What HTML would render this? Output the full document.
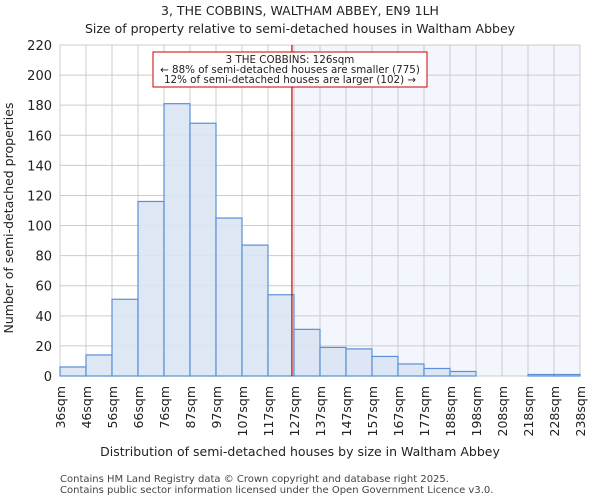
<!DOCTYPE html>
<html><head><meta charset="utf-8"><style>
body{margin:0;background:#fff;font-family:"DejaVu Sans","Liberation Sans",sans-serif}
svg text{font-family:"DejaVu Sans","Liberation Sans",sans-serif;fill:#222}
</style></head><body>
<svg id="c" width="600" height="500"></svg>
<script>
const categories=["36sqm","46sqm","56sqm","66sqm","76sqm","87sqm","97sqm","107sqm","117sqm","127sqm","137sqm","147sqm","157sqm","167sqm","177sqm","188sqm","198sqm","208sqm","218sqm","228sqm","238sqm"];
const counts=[6,14,51,116,181,168,105,87,54,31,19,18,13,8,5,3,0,0,1,1];
const yTicks=[0,20,40,60,80,100,120,140,160,180,200,220];
const markerBin=8.92;
const X0=60,X1=580,Y0=376,Y1=45,YMAX=220;
const bw=(X1-X0)/counts.length;
const xs=i=>X0+i*bw;
const ys=v=>Y0-(v/YMAX)*(Y0-Y1);
const svg=document.getElementById('c');const NS='http://www.w3.org/2000/svg';
function el(t,a,p){const e=document.createElementNS(NS,t);for(const k in a)e.setAttribute(k,a[k]);(p||svg).appendChild(e);return e;}
function txt(s,a,name){const e=el('text',a);e.textContent=s;return e;}
const mx=xs(markerBin);
const sh=el('rect',{x:mx,y:Y1,width:X1-mx,height:Y0-Y1,fill:'#f3f6fd'});


yTicks.forEach(t=>{const l=el('line',{x1:X0,x2:X1,y1:ys(t),y2:ys(t),stroke:'#ccc','stroke-width':1});


txt(String(t),{x:X0-8,y:ys(t)+5,'text-anchor':'end','font-size':13},'y-tick-label');});
categories.forEach((c,i)=>{const l=el('line',{x1:xs(i),x2:xs(i),y1:Y1,y2:Y0,stroke:'#ccc','stroke-width':1});


const x=xs(i)+5,y=Y0+10;
txt(c,{x:x,y:y,'text-anchor':'end','font-size':12.5,transform:`rotate(-90 ${x} ${y})`},'x-tick-label');});
counts.forEach((v,i)=>{if(v<=0)return;const r=el('rect',{x:xs(i),y:ys(v),width:bw,height:Y0-ys(v),fill:'#dae4f3',stroke:'#5b8fd6','stroke-width':1.2,'fill-opacity':0.9});

});
const ml=el('line',{x1:mx,x2:mx,y1:Y1,y2:Y0,stroke:'#cc0000','stroke-width':1.2});


const bx=el('rect',{x:153,y:52,width:274,height:35,fill:'#fff',stroke:'#cc0000','stroke-width':1});


txt('3 THE COBBINS: 126sqm',{x:290,y:63,'text-anchor':'middle','font-size':10.3},'annotation-title');
txt('← 88% of semi-detached houses are smaller (775)',{x:290,y:73,'text-anchor':'middle','font-size':10.3},'annotation-smaller');
txt('12% of semi-detached houses are larger (102) →',{x:290,y:83,'text-anchor':'middle','font-size':10.3},'annotation-larger');
txt('3, THE COBBINS, WALTHAM ABBEY, EN9 1LH',{x:300,y:15,'text-anchor':'middle','font-size':12.5},'chart-title');
txt('Size of property relative to semi-detached houses in Waltham Abbey',{x:300,y:33,'text-anchor':'middle','font-size':12.5},'chart-subtitle');
txt('Distribution of semi-detached houses by size in Waltham Abbey',{x:300,y:456,'text-anchor':'middle','font-size':12.5},'x-axis-title');
txt('Number of semi-detached properties',{x:13,y:218,'text-anchor':'middle','font-size':12.5,transform:'rotate(-90 13 218)'},'y-axis-title');
txt('Contains HM Land Registry data © Crown copyright and database right 2025.',{x:60,y:482,'font-size':10,style:'fill:#444'},'footer-line-1');
txt('Contains public sector information licensed under the Open Government Licence v3.0.',{x:60,y:493,'font-size':10,style:'fill:#444'},'footer-line-2');
</script>
</body></html>
